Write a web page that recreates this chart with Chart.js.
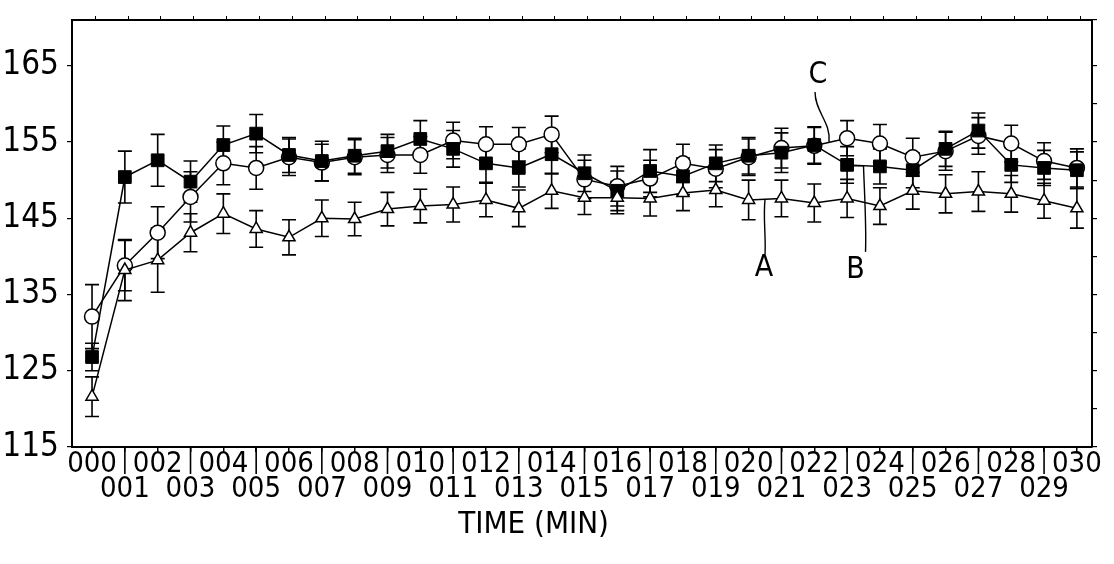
<!DOCTYPE html>
<html>
<head>
<meta charset="utf-8">
<script src="https://cdn.jsdelivr.net/npm/chart.js@4.4.1/dist/chart.umd.min.js"></script>
<style>
  html, body { margin: 0; padding: 0; background: #fff; }
  #wrap { width: 1114px; height: 564px; }
</style>
</head>
<body>
<div id="wrap"><canvas id="fig"></canvas></div>
<script>
// time points (min)
var times = ["000","001","002","003","004","005","006","007","008","009","010",
  "011","012","013","014","015","016","017","018","019","020",
  "021","022","023","024","025","026","027","028","029","030"];

// curve A - open triangles
var seriesA = [121.6, 138.2, 139.5, 143.1, 145.6, 143.6, 142.5, 145.0, 144.9, 146.2, 146.6,
  146.8, 147.4, 146.3, 148.6, 147.7, 147.7, 147.6, 148.3, 148.7, 147.4,
  147.6, 147.0, 147.6, 146.6, 148.6, 148.2, 148.5, 148.2, 147.3, 146.3];
var errA = [2.6, 4.0, 4.2, 2.5, 2.6, 2.4, 2.3, 2.4, 2.2, 2.2, 2.2,
  2.3, 2.2, 2.4, 2.3, 2.2, 2.1, 2.3, 2.3, 2.2, 2.6,
  2.4, 2.5, 2.5, 2.4, 2.4, 2.5, 2.6, 2.4, 2.3, 2.6];

// curve B - filled squares
var seriesB = [126.8, 150.4, 152.6, 149.8, 154.6, 156.1, 153.3, 152.5, 153.2, 153.8, 155.4,
  154.1, 152.2, 151.6, 153.4, 150.9, 148.6, 151.2, 150.5, 152.2, 153.2,
  153.6, 154.6, 152.0, 151.8, 151.3, 154.1, 156.5, 152.0, 151.6, 151.3];
var errB = [1.8, 3.4, 3.4, 2.7, 2.5, 2.5, 2.3, 2.6, 2.3, 2.2, 2.4,
  2.4, 2.5, 2.5, 2.6, 2.4, 2.6, 2.8, 2.4, 2.4, 2.4,
  2.6, 2.4, 2.4, 2.3, 2.3, 2.3, 2.3, 2.3, 2.3, 2.4];

// curve C - open circles
var seriesC = [132.1, 138.8, 143.1, 147.8, 152.2, 151.6, 153.0, 152.3, 153.0, 153.3, 153.3,
  155.2, 154.7, 154.7, 156.0, 150.1, 149.2, 150.2, 152.2, 151.5, 153.0,
  154.2, 154.5, 155.5, 154.8, 153.0, 153.8, 155.8, 154.8, 152.5, 151.6];
var errC = [4.2, 3.3, 3.4, 3.3, 2.8, 2.8, 2.4, 2.4, 2.3, 2.3, 2.4,
  2.4, 2.3, 2.2, 2.4, 2.5, 2.6, 2.4, 2.5, 2.5, 2.4,
  2.6, 2.4, 2.3, 2.5, 2.5, 2.5, 2.4, 2.4, 2.4, 2.5];

var yTickLabels = [115, 125, 135, 145, 155, 165];

var FONT = "'Liberation Sans Narrow', 'DejaVu Sans Condensed', 'Liberation Sans', sans-serif";

function points(arr) {
  return arr.map(function(v, i) { return { x: i, y: v }; });
}

// error bars, drawn under the markers
var errorBars = {
  id: "errorBars",
  beforeDatasetsDraw: function(chart) {
    var ctx = chart.ctx;
    var xs = chart.scales.x, ys = chart.scales.y;
    var vals = [seriesA, seriesB, seriesC];
    var errs = [errA, errB, errC];
    ctx.save();
    ctx.strokeStyle = "#000";
    ctx.lineWidth = 1.6;
    vals.forEach(function(arr, d) {
      arr.forEach(function(v, i) {
        var x = xs.getPixelForValue(i);
        var top = ys.getPixelForValue(v + errs[d][i]);
        var bot = ys.getPixelForValue(v - errs[d][i]);
        ctx.beginPath();
        ctx.moveTo(x, top); ctx.lineTo(x, bot);
        ctx.moveTo(x - 7, top); ctx.lineTo(x + 7, top);
        ctx.moveTo(x - 7, bot); ctx.lineTo(x + 7, bot);
        ctx.stroke();
      });
    });
    ctx.restore();
  }
};

// long separators at odd minutes, axis title and the A/B/C callouts
var figureMarks = {
  id: "figureMarks",
  afterDraw: function(chart) {
    var ctx = chart.ctx;
    var xs = chart.scales.x, ys = chart.scales.y;
    var area = chart.chartArea;
    ctx.save();
    ctx.strokeStyle = "#000";
    ctx.lineWidth = 1.6;
    for (var i = 1; i < times.length; i += 2) {
      var x = xs.getPixelForValue(i);
      ctx.beginPath();
      ctx.moveTo(x, area.bottom);
      ctx.lineTo(x, area.bottom + 27);
      ctx.stroke();
    }

    ctx.lineWidth = 1.4;
    // A
    var ax = xs.getPixelForValue(20.5);
    var ay = ys.getPixelForValue((seriesA[20] + seriesA[21]) / 2);
    ctx.beginPath();
    ctx.moveTo(ax, ay);
    ctx.bezierCurveTo(ax - 2, ay + 20, ax + 1, ay + 35, ax, ay + 55);
    ctx.stroke();
    // B
    var bx = xs.getPixelForValue(23.5);
    var by = ys.getPixelForValue(seriesB[23]) + 1;
    ctx.beginPath();
    ctx.moveTo(bx - 11, by);
    ctx.lineTo(bx, by);
    ctx.bezierCurveTo(bx + 1, by + 30, bx + 3, by + 60, bx + 2, by + 86);
    ctx.stroke();
    // C
    var cx = xs.getPixelForValue(22.45);
    var cy = ys.getPixelForValue((seriesC[22] + seriesC[23]) / 2);
    ctx.beginPath();
    ctx.moveTo(cx, cy);
    ctx.bezierCurveTo(cx + 2, cy - 20, cx - 14, cy - 30, cx - 14, cy - 50);
    ctx.stroke();

    ctx.fillStyle = "#000";
    ctx.font = "30px " + FONT;
    ctx.textAlign = "center";
    ctx.textBaseline = "middle";
    ctx.fillText("A", ax - 1, ay + 69);
    ctx.fillText("B", bx - 8, by + 104);
    ctx.fillText("C", cx - 11, cy - 67);

    ctx.font = "31px " + FONT;
    ctx.fillText("TIME (MIN)", xs.getPixelForValue(13.45), area.bottom + 78);
    ctx.restore();
  }
};

var xMin = -0.61, xMax = 30.46;

function noPad(s) {
  s.paddingTop = 0; s.paddingBottom = 0;
}

new Chart(document.getElementById("fig"), {
  type: "line",
  data: {
    datasets: [
      {
        label: "A", data: points(seriesA),
        borderColor: "#000", borderWidth: 1.5,
        pointStyle: "triangle", pointRadius: 7,
        pointBackgroundColor: "#fff", pointBorderColor: "#000", pointBorderWidth: 1.5
      },
      {
        label: "B", data: points(seriesB),
        borderColor: "#000", borderWidth: 1.5,
        pointStyle: "rect", pointRadius: 9,
        pointBackgroundColor: "#000", pointBorderColor: "#000", pointBorderWidth: 1
      },
      {
        label: "C", data: points(seriesC),
        borderColor: "#000", borderWidth: 1.5,
        pointStyle: "circle", pointRadius: 7.5,
        pointBackgroundColor: "#fff", pointBorderColor: "#000", pointBorderWidth: 1.5
      }
    ]
  },
  options: {
    responsive: true,
    maintainAspectRatio: false,
    animation: false,
    layout: { padding: { top: 20, right: 22, left: 0, bottom: 0 } },
    plugins: { legend: { display: false }, tooltip: { enabled: false } },
    scales: {
      x: {
        type: "linear",
        position: "bottom",
        min: xMin, max: xMax,
        border: { color: "#000", width: 2 },
        grid: { drawOnChartArea: false, color: "#000", tickLength: 5, lineWidth: 1.5 },
        afterBuildTicks: function(s) {
          s.ticks = times.map(function(t, i) { return { value: i }; });
        },
        ticks: {
          autoSkip: false, maxRotation: 0, padding: 0,
          color: "#000",
          font: { family: FONT, size: 29, lineHeight: 0.85 },
          callback: function(v) {
            var i = Math.round(v);
            return i % 2 === 0 ? times[i] : ["", times[i]];
          }
        },
        afterFit: function(s) { s.height = 117; }
      },
      xTop: {
        type: "linear",
        position: "top",
        min: xMin, max: xMax,
        border: { color: "#000", width: 2 },
        grid: { drawOnChartArea: false, color: "#000", tickLength: 4, lineWidth: 1 },
        afterBuildTicks: function(s) {
          s.ticks = times.map(function(t, i) { return { value: i + 0.1 }; });
        },
        ticks: { display: false },
        afterFit: function(s) { s.height = 0; }
      },
      y: {
        position: "left",
        min: 115, max: 171,
        border: { color: "#000", width: 2 },
        grid: { drawOnChartArea: false, color: "#000", tickLength: 5, lineWidth: 1.2 },
        ticks: {
          stepSize: 5, padding: 8, color: "#000",
          font: { family: FONT, size: 33 },
          callback: function(v) { return yTickLabels.indexOf(v) >= 0 ? String(v) : ""; }
        },
        afterFit: function(s) { s.width = 72; noPad(s); }
      },
      yRight: {
        position: "right",
        min: 115, max: 171,
        border: { color: "#000", width: 2 },
        grid: { drawOnChartArea: false, color: "#000", tickLength: 5, lineWidth: 1.2 },
        ticks: { display: false, stepSize: 5 },
        afterFit: function(s) { s.width = 0; noPad(s); }
      }
    }
  },
  plugins: [errorBars, figureMarks]
});
</script>
</body>
</html>
